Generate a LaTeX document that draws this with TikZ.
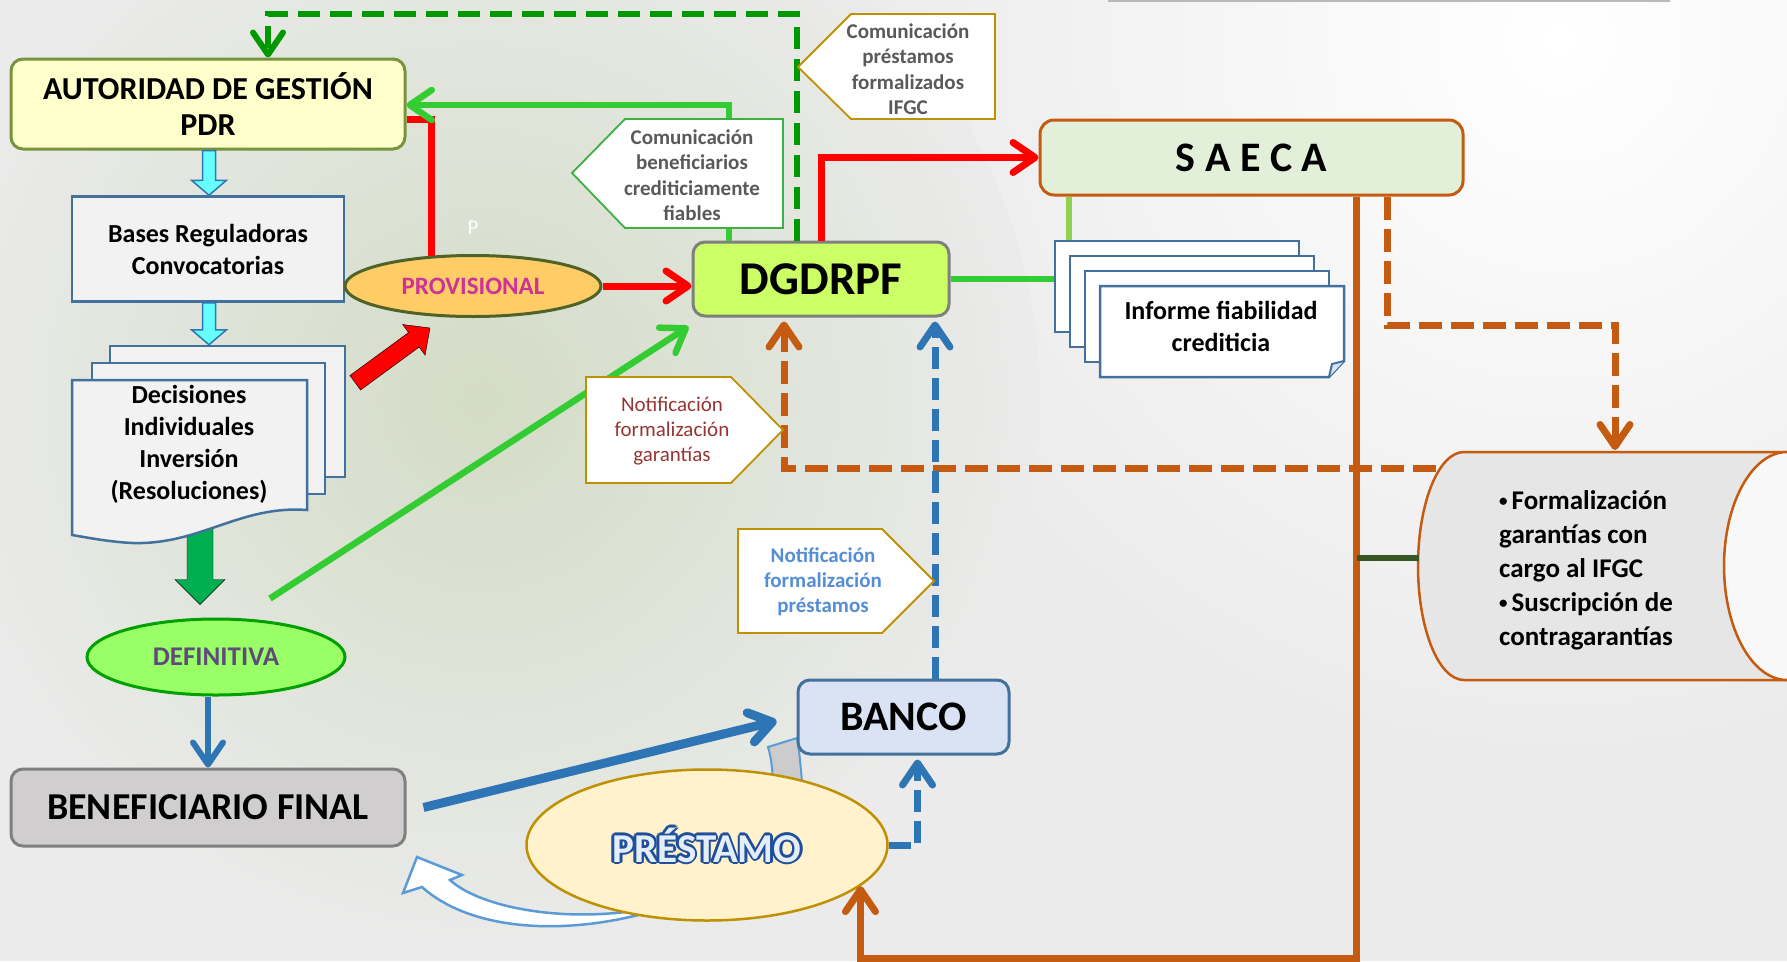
\documentclass[tikz,border=0pt]{standalone}
\usepackage{fontspec}
\setmainfont{Carlito}
\usetikzlibrary{arrows.meta,calc,shapes.geometric}
\definecolor{bgc}{HTML}{EBEBEB}
\definecolor{autfill}{HTML}{FFFFCC}
\definecolor{autdraw}{HTML}{77933C}
\definecolor{basefill}{HTML}{F2F2F2}
\definecolor{pagedraw}{HTML}{41719C}
\definecolor{deffill}{HTML}{99FF66}
\definecolor{defdraw}{HTML}{00A000}
\definecolor{deftext}{HTML}{604A7B}
\definecolor{beneffill}{HTML}{D0CECE}
\definecolor{greydraw}{HTML}{7F7F7F}
\definecolor{bancofill}{HTML}{DAE3F3}
\definecolor{prestfill}{HTML}{FFF2CC}
\definecolor{golddraw}{HTML}{BF9000}
\definecolor{provfill}{HTML}{FFCC66}
\definecolor{provdraw}{HTML}{4F6228}
\definecolor{provtext}{HTML}{CC3399}
\definecolor{dgdfill}{HTML}{CCFF66}
\definecolor{saecafill}{HTML}{E2F0D9}
\definecolor{orangec}{HTML}{C55A11}
\definecolor{redc}{HTML}{FF0000}
\definecolor{greenc}{HTML}{33CC33}
\definecolor{dkgreenc}{HTML}{009900}
\definecolor{bluec}{HTML}{2E75B6}
\definecolor{lgreenc}{HTML}{92D050}
\definecolor{stubc}{HTML}{375623}
\definecolor{cyanfill}{HTML}{66FFFF}
\definecolor{blockgreen}{HTML}{00B050}
\definecolor{calltext}{HTML}{595959}
\definecolor{calgreen}{HTML}{3CB043}
\definecolor{ngtext}{HTML}{943634}
\definecolor{nptext}{HTML}{558ED5}
\definecolor{scrollfill}{HTML}{E7E6E6}
\definecolor{lightbluec}{HTML}{5B9BD5}
\definecolor{prestout}{HTML}{1F4E9A}
\definecolor{prestin}{HTML}{E4EEF9}
\definecolor{greentint}{HTML}{D3DCC6}
\newcommand{\myfs}[2]{\fontsize{#1}{#2}\selectfont}
\newcommand{\prestfont}{\myfs{41}{41}\bfseries}
\newcommand{\smbul}{{\myfs{17}{17}\raisebox{2.5pt}{•}}\hspace{4pt}}
\newcommand{\blkarrow}[6]{%
  \path #2 coordinate (ba-s) #3 coordinate (ba-e);
  \path ($(ba-e)!#6!(ba-s)$) coordinate (ba-h);
  \draw[#1] ($(ba-s)!#4!90:(ba-e)$) -- ($(ba-h)!#4!90:(ba-e)$) -- ($(ba-h)!#5!90:(ba-e)$) -- (ba-e) -- ($(ba-h)!#5!-90:(ba-e)$) -- ($(ba-h)!#4!-90:(ba-e)$) -- ($(ba-s)!#4!-90:(ba-e)$) -- cycle;}
\begin{document}
\begin{tikzpicture}[x=1pt,y=-1pt,
  oarrow/.style={-{Straight Barb[length=22pt,width=30pt,round]}},
  redl/.style={draw=redc,line width=7},
  greenl/.style={draw=greenc,line width=6.5},
  bluel/.style={draw=bluec,line width=6},
  bluethick/.style={draw=bluec,line width=9},
  bluedash/.style={draw=bluec,line width=7,dash pattern=on 22pt off 9pt},
  orangel/.style={draw=orangec,line width=7},
  orangedash/.style={draw=orangec,line width=7,dash pattern=on 23pt off 9pt},
  greendash/.style={draw=dkgreenc,line width=6,dash pattern=on 22pt off 10pt},
  lgreenl/.style={draw=lgreenc,line width=6},
  stubl/.style={draw=stubc,line width=6},
  boxb/.style={rectangle,rounded corners=12,inner sep=0,align=center,line width=3},
  pagestyle/.style={draw=pagedraw,line width=2.5},
  callbox/.style={fill=white,line width=1.8},
  calltxt/.style={align=center,inner sep=0,font=\myfs{21}{25.5}\bfseries,text=calltext},
]
\useasboundingbox (0,0) rectangle (1787,961);
% background
\fill[bgc] (0,0) rectangle (1787,961);
\shade[inner color=white,outer color=bgc] (1560,40) circle (720);
\shade[inner color=greentint,outer color=bgc] (480,400) circle (560);
\draw[gray!55,line width=2] (1108,1) -- (1670,1);

% hidden part of curved arrow and white curved arrow
\filldraw[fill=gray!40,draw=lightbluec,line width=2] (768,747) .. controls (772,760) and (773,775) .. (773,792) -- (803,792) .. controls (801,772) and (800,755) .. (797,738) -- cycle;
\filldraw[fill=white,draw=lightbluec,line width=2.5] (646,913) .. controls (560,936) and (470,930) .. (422,887) -- (403,893) -- (417,857) -- (462,875) -- (450,880) .. controls (478,906) and (560,924) .. (646,909) -- cycle;

% DEFINITIVA and green block arrow
\node[ellipse,draw=defdraw,line width=3,fill=deffill,minimum width=258,minimum height=76,inner sep=0,font=\myfs{27}{27}\bfseries,text=deftext] (definitiva) at (216,657) {DEFINITIVA};
\blkarrow{fill=blockgreen}{([xshift=-16,yshift=100]definitiva.north)}{([xshift=-16,yshift=13]definitiva.north)}{13pt}{25pt}{25pt}

% Decisiones pages
\node[rectangle,pagestyle,fill=basefill,minimum width=235,minimum height=131,inner sep=0] (dec1) at (227.5,411.5) {};
\node[rectangle,pagestyle,fill=basefill,minimum width=233,minimum height=131,inner sep=0] (dec2) at (208.5,428.5) {};
\filldraw[pagestyle,fill=basefill] (72,380) -- (307,380) -- (307,510) .. controls (240,505) and (200,545) .. (133,543) .. controls (110,542) and (90,538) .. (72,535) -- cycle;
\node[font=\myfs{26}{32}\bfseries,align=center,inner sep=0] (dectext) at (189,444) {Decisiones\\Individuales\\Inversión\\(Resoluciones)};

% Informe pages
\node[rectangle,pagestyle,fill=white,minimum width=244,minimum height=91,inner sep=0] (inf1) at (1177,286.5) {};
\node[rectangle,pagestyle,fill=white,minimum width=244,minimum height=91,inner sep=0] (inf2) at (1192,301.5) {};
\node[rectangle,pagestyle,fill=white,minimum width=244,minimum height=91,inner sep=0] (inf3) at (1207,316.5) {};
\filldraw[pagestyle,fill=white] (1100,286) -- (1344,286) -- (1344,361) -- (1329,377) -- (1100,377) -- cycle;
\filldraw[pagestyle,fill=bancofill,line width=2] (1344,361) -- (1332,364) -- (1329,377);
\node[font=\myfs{26}{32}\bfseries,align=center,inner sep=0] (informe) at (1221,326) {Informe fiabilidad\\crediticia};

% scroll shape
\filldraw[draw=orangec,line width=2.5,fill=scrollfill] (1464,452) -- (1800,452) -- (1800,680) -- (1464,680) arc[start angle=90,end angle=270,x radius=46,y radius=114] -- cycle;
\filldraw[draw=orangec,line width=2.5,fill=white!70!scrollfill] (1787,452) arc[start angle=270,end angle=90,x radius=63,y radius=114];
\node[anchor=west,align=left,inner sep=0,font=\myfs{27}{34}\bfseries] (scrolltext) at (1499,570) {\smbul Formalización\\garantías con\\cargo al IFGC\\\smbul Suscripción de\\contragarantías};
\coordinate (scrollwest) at (1419,558);
\coordinate (scrolltop) at (1615,450);
\coordinate (scrollleft) at (1436,468);

% main boxes
\node[boxb,draw=autdraw,fill=autfill,minimum width=394,minimum height=90,font=\myfs{32}{36}\bfseries] (autoridad) at (208,104) {AUTORIDAD DE GESTIÓN\\PDR};
\node[rectangle,inner sep=0,align=center,draw=pagedraw,line width=2.5,fill=basefill,minimum width=272,minimum height=105,font=\myfs{26}{32}\bfseries] (bases) at (208,249) {Bases Reguladoras\\Convocatorias};
\node[boxb,draw=greydraw,fill=beneffill,minimum width=394,minimum height=77,font=\myfs{38}{38}\bfseries] (benef) at (208,807.5) {BENEFICIARIO FINAL};
\node[boxb,draw=pagedraw,fill=bancofill,minimum width=211,minimum height=74,font=\myfs{42}{42}\bfseries] (banco) at (903.5,717) {BANCO};
\node[ellipse,draw=golddraw,line width=2.5,fill=prestfill,minimum width=361,minimum height=151,inner sep=0] (prestamo) at (707,845) {};
\node[ellipse,draw=provdraw,line width=3,fill=provfill,minimum width=256,minimum height=61,inner sep=0,font=\myfs{25}{25}\bfseries,text=provtext] (provisional) at (473,286) {PROVISIONAL};
\node[boxb,draw=greydraw,fill=dgdfill,minimum width=256,minimum height=74,font=\myfs{47}{47}\bfseries] (dgdrpf) at (821,279) {DGDRPF};
\node[boxb,draw=orangec,fill=saecafill,minimum width=423,minimum height=75,rounded corners=14,font=\myfs{42}{42}\bfseries] (saeca) at (1251.5,157.5) {S A E C A};
\coordinate (orangev) at ([xshift=105]saeca.south);

% block arrows
\blkarrow{fill=cyanfill,draw=bluec,line width=1.5}{([xshift=1]autoridad.south)}{([xshift=1]bases.north)}{6.5pt}{17.5pt}{15pt}
\blkarrow{fill=cyanfill,draw=bluec,line width=1.5}{([xshift=1]bases.south)}{([xshift=1]bases.south |- dec1.north)}{6.5pt}{17.5pt}{15pt}
\blkarrow{fill=redc}{([xshift=9,yshift=-38]dec1.north east)}{([xshift=-43,yshift=-10]provisional.south)}{9pt}{19pt}{20pt}

% connectors
\draw[redl,oarrow] (provisional.east) -- (provisional.east -| dgdrpf.west);
\draw[redl] (provisional.144) |- ([yshift=-15]autoridad.east);
\draw[redl,oarrow] (dgdrpf.north) |- (saeca.west);
\draw[greenl,oarrow] ([xshift=-92]dgdrpf.north) |- ([yshift=-1]autoridad.east);
\draw[greendash,oarrow] ([xshift=-24]dgdrpf.north) -- ++(0,-227) -| ([xshift=60]autoridad.north);
\draw[greenl] (dgdrpf.east) -- (dgdrpf.east -| inf1.west);
\draw[lgreenl] ([xshift=-182.5]saeca.south) -- ([xshift=-182.5]saeca.south |- inf1.north);
\draw[greenl,oarrow] ([xshift=54,yshift=19]definitiva.north) -- ([xshift=-3,yshift=-9]dgdrpf.south west);
\draw[bluel,oarrow] (definitiva.south -| benef.north) -- (benef.north);
\draw[bluethick,oarrow] ([xshift=17]benef.east) -- ([xshift=-20,yshift=-4]banco.west);
\draw[orangedash,oarrow] (scrollleft) -| ([xshift=-37,yshift=-4]dgdrpf.south);
\draw[bluedash,oarrow] ([xshift=31.5]banco.north) -- ([xshift=114,yshift=-4]dgdrpf.south);
\draw[bluedash,oarrow] (prestamo.east) -| ([xshift=14,yshift=-4]banco.south);
\draw[orangel,oarrow] (orangev) -- ++(0,762) -| (prestamo.-15);
\draw[orangedash,oarrow] ([xshift=136]saeca.south) -- ++(0,129) -| (scrolltop);
\draw[stubl] (scrollwest) -- (scrollwest -| orangev);

% callouts
\filldraw[callbox,draw=calgreen] (572,173) -- (625,119) -- (783,119) -- (783,228) -- (625,228) -- cycle;
\node[calltxt] (cbtext) at (692,175) {Comunicación\\beneficiarios\\crediticiamente\\fiables};
\filldraw[callbox,draw=golddraw] (798,67) -- (851,14) -- (995,14) -- (995,119) -- (851,119) -- cycle;
\node[calltxt] (cptext) at (908,69) {Comunicación\\préstamos\\formalizados\\IFGC};
\filldraw[callbox,draw=golddraw] (586,377) -- (731,377) -- (783,430) -- (731,483) -- (586,483) -- cycle;
\node[calltxt,font=\myfs{21}{25}\mdseries,text=ngtext] (ngtext) at (672,431) {Notificación\\formalización\\garantías};
\filldraw[callbox,draw=golddraw] (738,529) -- (882,529) -- (934,581) -- (882,633) -- (738,633) -- cycle;
\node[calltxt,font=\myfs{21}{25}\bfseries,text=nptext] (nptext) at (823,582) {Notificación\\formalización\\préstamos};

% PRÉSTAMO outlined text
\foreach \ang in {0,45,...,315}{\node[text=prestout,font=\prestfont] at ([shift={(\ang:2.6)}]prestamo.center) {PRÉSTAMO};}
\node[text=prestin,font=\prestfont] (prestext) at (prestamo.center) {PRÉSTAMO};

\node[text=white,font=\myfs{21}{21}] (pmark) at (473,228) {P};
\end{tikzpicture}
\end{document}
